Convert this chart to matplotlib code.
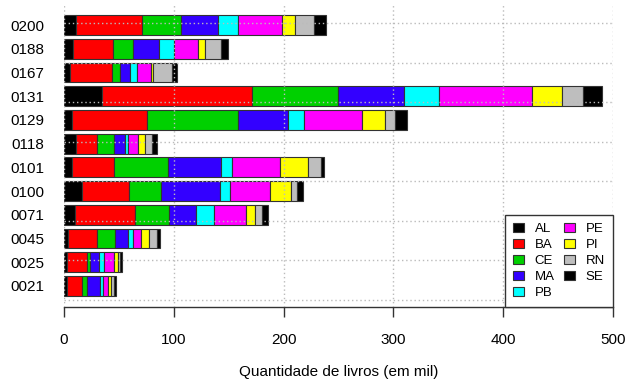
import numpy as np
import matplotlib
matplotlib.use("Agg")
import matplotlib.pyplot as plt

plt.rcParams['font.family'] = ['Liberation Sans', 'DejaVu Sans']

# ===== data (mil livros) =====
codes = ["0021", "0025", "0045", "0071", "0100", "0101",
         "0118", "0129", "0131", "0167", "0188", "0200"]
states = ["AL", "BA", "CE", "MA", "PB", "PE", "PI", "RN", "SE"]

AL = [2.4, 2.4, 3.3, 10.0, 16.7, 7.3, 10.9, 7.6, 34.3, 5.2, 7.9, 10.6]
BA = [13.7, 18.2, 27.1, 55.0, 42.2, 37.9, 19.5, 68.0, 137.2, 38.8, 37.0, 60.1]
CE = [4.8, 3.1, 16.4, 30.9, 29.7, 49.5, 15.4, 82.6, 77.7, 7.3, 18.2, 35.9]
MA = [11.9, 8.2, 11.2, 24.3, 53.2, 48.6, 9.5, 45.5, 60.5, 8.5, 23.1, 33.7]
PB = [2.4, 4.8, 5.1, 16.1, 9.1, 9.7, 3.3, 15.2, 32.1, 7.0, 14.3, 18.5]
PE = [5.2, 8.5, 6.7, 29.2, 36.7, 44.0, 9.1, 52.8, 84.4, 12.1, 21.2, 39.4]
PI = [2.4, 4.0, 7.6, 8.5, 18.8, 25.2, 6.1, 21.0, 27.4, 1.9, 6.7, 12.5]
RN = [2.4, 2.1, 7.0, 6.3, 5.5, 11.6, 6.0, 8.5, 19.4, 17.9, 14.3, 17.3]
SE = [1.9, 1.8, 3.0, 5.8, 5.5, 3.3, 4.6, 11.5, 17.0, 3.9, 7.0, 10.6]

series = [AL, BA, CE, MA, PB, PE, PI, RN, SE]
colors = ["black", "#FF0000", "#00D000", "#3300FF", "#00FFFF",
          "#FF00FF", "#FFFF00", "#BEBEBE", "black"]

# posicoes estilo barplot do R (width=1, space=0.2)
ypos = 0.7 + 1.2 * np.arange(len(codes))

fig = plt.figure(figsize=(6.28, 3.82), dpi=100)
ax = fig.add_axes([0.1019, 0.1963, 0.8742, 0.7932])

left = np.zeros(len(codes))
for vals, col, st in zip(series, colors, states):
    vals = np.array(vals)
    ax.barh(ypos, vals, height=1.0, left=left, color=col,
            edgecolor="#333333", linewidth=0.8, label=st, zorder=2)
    left += vals

ax.set_xlim(0, 500)
ax.set_ylim(-0.368, 14.968)

# grade pontilhada por cima das barras
for xv in range(0, 501, 100):
    ax.axvline(xv, color="#BBBBBB", linestyle=(0, (1, 2)), linewidth=1, zorder=3)
for yv in range(0, 15, 2):
    ax.axhline(yv, color="#BBBBBB", linestyle=(0, (1, 2)), linewidth=1, zorder=3)

ax.set_yticks(ypos)
ax.set_yticklabels(codes)
ax.tick_params(axis="y", length=0, pad=14, labelsize=11)
ax.set_xticks(range(0, 501, 100))
ax.tick_params(axis="x", length=7, width=1, pad=12, labelsize=11,
               color="#333333")

for s in ["top", "right", "left"]:
    ax.spines[s].set_visible(False)
ax.spines["bottom"].set_linewidth(1)
ax.spines["bottom"].set_color("#333333")

ax.set_xlabel("Quantidade de livros (em mil)", fontsize=11, labelpad=13)

leg = ax.legend(ncol=2, loc="lower right", bbox_to_anchor=(1.0, 0.0),
                fontsize=9.5, frameon=True,
                fancybox=False, edgecolor="#333333", framealpha=1,
                handlelength=0.8, handleheight=0.65, handletextpad=0.85,
                columnspacing=0.7, labelspacing=0.3, borderpad=0.6,
                borderaxespad=0)
leg.set_zorder(5)
leg.get_frame().set_linewidth(1)

fig.savefig("out.png", dpi=100)
